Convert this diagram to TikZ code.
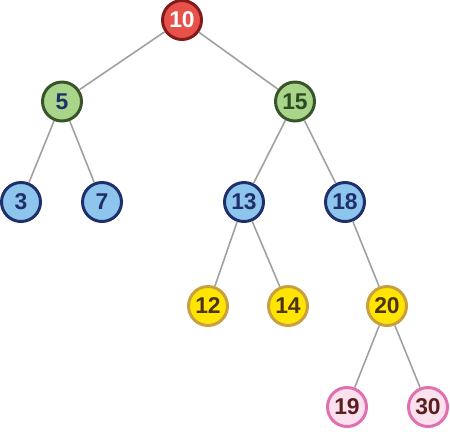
\documentclass[tikz,border=0pt]{standalone}
\usepackage{fontspec}
\setmainfont{Liberation Sans}
\usepackage{tikz}
\usetikzlibrary{positioning}
\definecolor{rootfill}{RGB}{232,80,74}
\definecolor{rootline}{RGB}{130,26,26}
\definecolor{lvlonefill}{RGB}{168,213,138}
\definecolor{lvloneline}{RGB}{58,84,42}
\definecolor{lvltwofill}{RGB}{142,197,236}
\definecolor{lvltwoline}{RGB}{30,47,107}
\definecolor{lvlthreefill}{RGB}{255,229,0}
\definecolor{lvlthreeline}{RGB}{200,160,64}
\definecolor{lvlfourfill}{RGB}{251,224,238}
\definecolor{lvlfourline}{RGB}{224,112,176}
\definecolor{browntxt}{RGB}{74,52,16}
\definecolor{maroontxt}{RGB}{90,30,30}
\definecolor{greentxt}{RGB}{46,74,34}
\definecolor{edgegray}{RGB}{160,160,160}
\tikzset{
  keynode/.style={circle, line width=1.7pt, minimum size=0.78cm, inner sep=0pt,
    font=\fontsize{13}{15}\selectfont\bfseries},
  rootkey/.style={keynode, draw=rootline, fill=rootfill, text=white},
  onekey/.style={keynode, draw=lvloneline, fill=lvlonefill},
  twokey/.style={keynode, draw=lvltwoline, fill=lvltwofill, text=lvltwoline},
  threekey/.style={keynode, draw=lvlthreeline, fill=lvlthreefill, text=browntxt},
  fourkey/.style={keynode, draw=lvlfourline, fill=lvlfourfill, text=maroontxt},
  branch/.style={line width=0.9pt, edgegray},
}

\begin{document}
\begin{tikzpicture}
    \useasboundingbox (0,0) rectangle (9,-8.62);
    % keys
    \node[rootkey] (k10) at (3.64,-0.40) {10};
    \node[onekey, text=lvltwoline] (k5) at (1.24,-2.03) {5};
    \node[onekey, text=greentxt] (k15) at (5.90,-2.03) {15};
    \node[twokey] (k3) at (0.42,-4.04) {3};
    \node[twokey] (k7) at (2.04,-4.04) {7};
    \node[twokey] (k13) at (4.88,-4.04) {13};
    \node[twokey] (k18) at (6.90,-4.04) {18};
    \node[threekey] (k12) at (4.16,-6.12) {12};
    \node[threekey] (k14) at (5.76,-6.12) {14};
    \node[threekey] (k20) at (7.74,-6.12) {20};
    \node[fourkey] (k19) at (6.94,-8.14) {19};
    \node[fourkey] (k30) at (8.56,-8.14) {30};
    % branches
    \draw[branch] (k10) -- (k5);
    \draw[branch] (k10) -- (k15);
    \draw[branch] (k5) -- (k3);
    \draw[branch] (k5) -- (k7);
    \draw[branch] (k15) -- (k13);
    \draw[branch] (k15) -- (k18);
    \draw[branch] (k13) -- (k12);
    \draw[branch] (k13) -- (k14);
    \draw[branch] (k18) -- (k20);
    \draw[branch] (k20) -- (k19);
    \draw[branch] (k20) -- (k30);
\end{tikzpicture}
\end{document}
